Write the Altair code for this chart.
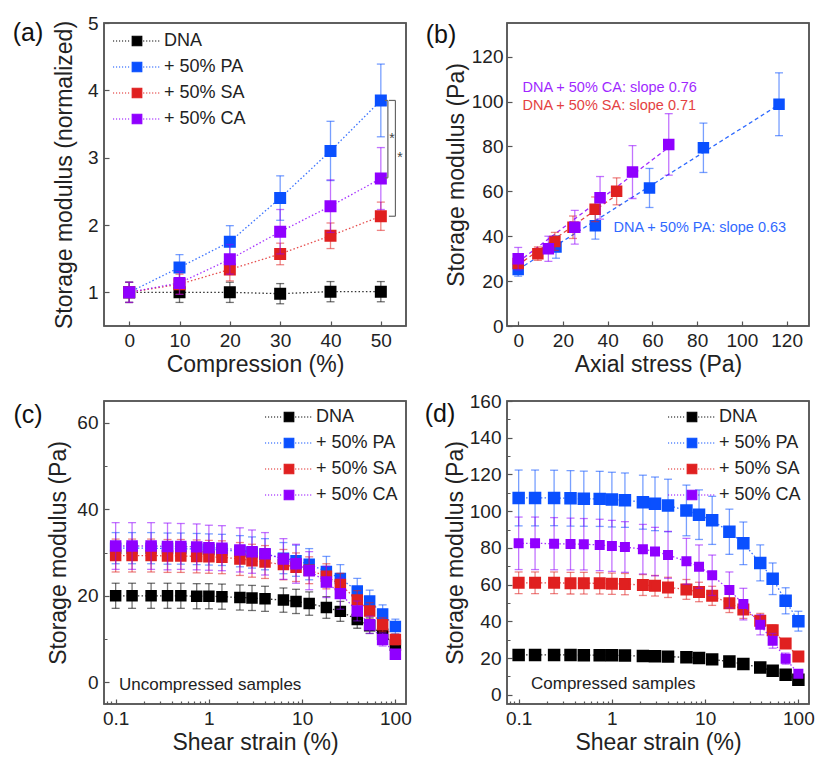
import altair as alt
import pandas as pd

FONT = "Liberation Sans"
SERIES = ["DNA", "+ 50% PA", "+ 50% SA", "+ 50% CA"]
COLORS = ["#000000", "#0a50ff", "#e02020", "#9000ff"]
W, H = 302, 303

# ---------------- (a) ----------------
compression = [0, 10, 20, 30, 40, 50]
a_dna = [1.00, 1.00, 1.00, 0.98, 1.01, 1.01]
a_dna_err = [0.15, 0.15, 0.15, 0.15, 0.15, 0.15]
a_pa = [1.00, 1.37, 1.75, 2.40, 3.10, 3.85]
a_pa_err = [0.15, 0.19, 0.24, 0.33, 0.44, 0.54]
a_sa = [1.00, 1.12, 1.34, 1.57, 1.84, 2.13]
a_sa_err = [0.15, 0.15, 0.17, 0.16, 0.19, 0.21]
a_ca = [1.00, 1.14, 1.49, 1.90, 2.28, 2.69]
a_ca_err = [0.15, 0.17, 0.22, 0.33, 0.39, 0.46]

br_x = [50.8, 51.4, 50.8, 51.6, 52.9, 51.6]
br_x2 = [51.4, 51.4, 51.4, 52.9, 52.9, 52.9]
br_y = [3.85, 3.85, 2.70, 3.85, 3.85, 2.13]
br_y2 = [3.85, 2.70, 2.70, 3.85, 2.13, 2.13]
star_x = [52.2, 53.8]
star_y = [3.27, 3.00]

# ---------------- (b) ----------------
b_pa_x = [0, 16.9, 34.5, 58.7, 82.8, 116.6]
b_pa = [25.2, 35.2, 44.7, 61.5, 79.4, 98.8]
b_pa_err = [3.0, 5.0, 6.0, 8.7, 11.0, 14.0]
b_sa_x = [0, 8.8, 16.4, 24.5, 34.4, 44.0]
b_sa = [27.8, 32.2, 37.7, 44.0, 52.0, 60.0]
b_sa_err = [2.0, 3.0, 4.0, 5.0, 5.5, 6.0]
b_ca_x = [0, 13.5, 25.3, 36.6, 51.1, 67.3]
b_ca = [30.0, 34.4, 44.0, 57.1, 68.6, 80.9]
b_ca_err = [5.0, 5.6, 7.5, 9.5, 11.8, 13.7]
fit_series = ["+ 50% PA", "+ 50% PA", "+ 50% SA", "+ 50% SA", "+ 50% CA", "+ 50% CA"]
fit_x = [0, 117, 0, 44, 0, 67]
fit_y = [25.2, 98.9, 27.2, 58.4, 28.5, 79.4]
ann_series = ["+ 50% CA", "+ 50% SA", "+ 50% PA"]
ann_text = ["DNA + 50% CA: slope 0.76", "DNA + 50% SA: slope 0.71", "DNA + 50% PA: slope 0.63"]
ann_x = [1.9, 1.9, 42.6]
ann_y = [106.0, 98.2, 43.8]

# ---------------- (c) / (d) ----------------
strain = [0.1, 0.15, 0.24, 0.36, 0.5, 0.74, 1.0, 1.38, 2.15, 2.9, 4.0, 6.3, 8.6, 11.9, 18.2, 25.7, 39, 53, 73, 100]

c_dna = [20.0, 20.0, 20.0, 20.0, 20.0, 19.9, 19.9, 19.8, 19.6, 19.5, 19.3, 19.0, 18.7, 18.2, 17.3, 16.4, 14.5, 13.1, 11.1, 8.6]
c_dna_err = [2.9, 2.9, 2.9, 2.9, 2.9, 2.9, 2.9, 2.9, 2.9, 2.9, 2.9, 2.8, 2.8, 2.7, 2.5, 2.3, 2.0, 1.8, 1.6, 1.5]
c_pa = [31.0, 31.0, 31.0, 30.9, 30.9, 30.8, 30.7, 30.6, 30.3, 30.0, 29.6, 28.7, 28.1, 27.3, 25.6, 24.0, 21.1, 18.8, 15.8, 12.9]
c_pa_err = [3.6, 3.6, 3.6, 3.6, 3.6, 3.6, 3.6, 3.6, 3.6, 3.6, 3.6, 3.6, 3.6, 3.6, 3.5, 3.2, 2.9, 2.5, 2.1, 1.7]
c_sa = [29.3, 29.3, 29.3, 29.2, 29.2, 29.1, 29.0, 28.9, 28.5, 28.1, 27.8, 27.2, 26.6, 25.9, 24.5, 22.6, 19.0, 16.5, 13.3, 9.9]
c_sa_err = [3.8, 3.8, 3.8, 3.8, 3.8, 3.8, 3.8, 3.8, 3.8, 3.8, 3.8, 3.5, 3.3, 3.1, 2.9, 2.6, 2.2, 1.9, 1.6, 1.2]
c_ca = [31.5, 31.5, 31.5, 31.4, 31.4, 31.3, 31.1, 31.0, 30.6, 30.2, 29.7, 28.5, 27.4, 25.8, 23.2, 20.5, 16.5, 13.3, 9.9, 6.5]
c_ca_err = [5.4, 5.4, 5.4, 5.4, 5.3, 5.3, 5.2, 5.2, 5.1, 5.0, 4.9, 4.7, 4.5, 4.4, 3.6, 3.6, 2.3, 2.0, 1.5, 1.0]

d_dna = [21.7, 21.7, 21.7, 21.7, 21.6, 21.6, 21.5, 21.4, 21.1, 21.0, 20.8, 20.4, 20.0, 19.3, 18.1, 16.8, 14.9, 13.1, 10.9, 8.2]
d_dna_err = [2.2, 2.2, 2.2, 2.2, 2.2, 2.2, 2.2, 2.2, 2.2, 2.2, 2.2, 2.2, 2.0, 2.0, 1.8, 1.7, 1.5, 1.3, 1.2, 1.0]
d_pa = [107.2, 107.2, 107.2, 107.0, 106.8, 106.7, 106.3, 106.0, 104.9, 104.0, 103.1, 100.4, 98.1, 95.0, 88.8, 82.5, 71.8, 63.2, 51.2, 40.1]
d_pa_err = [15.2, 15.2, 15.1, 15.1, 15.0, 15.0, 14.9, 14.8, 14.7, 14.6, 14.3, 13.8, 13.5, 13.1, 12.3, 11.6, 9.8, 8.6, 7.1, 5.4]
d_sa = [61.0, 61.0, 61.0, 60.8, 60.8, 60.7, 60.5, 60.3, 59.8, 59.4, 58.5, 57.4, 56.0, 53.9, 49.8, 46.4, 40.4, 35.1, 27.9, 20.8]
d_sa_err = [5.9, 5.9, 5.9, 5.9, 5.9, 5.8, 5.8, 5.8, 5.7, 5.6, 5.5, 5.4, 5.3, 5.2, 5.0, 4.8, 4.0, 3.0, 2.0, 1.5]
d_ca = [82.5, 82.5, 82.3, 82.1, 82.0, 81.6, 81.1, 80.5, 79.3, 78.0, 76.2, 72.7, 69.8, 65.1, 57.1, 49.4, 38.1, 29.4, 19.7, 11.5]
d_ca_err = [14.3, 14.3, 14.2, 14.1, 14.0, 14.0, 13.9, 13.8, 13.5, 13.2, 12.8, 12.5, 11.8, 11.0, 9.8, 8.6, 5.5, 4.0, 3.0, 2.0]

log_ticks = [0.08, 0.09, 0.1, 0.2, 0.3, 0.4, 0.5, 0.6, 0.7, 0.8, 0.9, 1, 2, 3, 4, 5, 6, 7, 8, 9,
             10, 20, 30, 40, 50, 60, 70, 80, 90, 100]

# axis ranges of the four panels
dom_a = ([-5, 55], [0.5, 5])
dom_b = ([-5, 130], [0, 135])
dom_c = ([0.075, 130], [-5, 65])
dom_d = ([0.075, 130], [-5, 160])


def long_df(names, xs_list, ys_list, es_list):
    rows = []
    for s, xs, ys, es in zip(names, xs_list, ys_list, es_list):
        for x, y, e in zip(xs, ys, es):
            rows.append({"series": s, "x": x, "y": y, "lo": y - e, "hi": y + e})
    return pd.DataFrame(rows)


df_a = long_df(SERIES, [compression] * 4, [a_dna, a_pa, a_sa, a_ca], [a_dna_err, a_pa_err, a_sa_err, a_ca_err])
df_b = long_df(SERIES[1:], [b_pa_x, b_sa_x, b_ca_x], [b_pa, b_sa, b_ca], [b_pa_err, b_sa_err, b_ca_err])
df_c = long_df(SERIES, [strain] * 4, [c_dna, c_pa, c_sa, c_ca], [c_dna_err, c_pa_err, c_sa_err, c_ca_err])
df_d = long_df(SERIES, [strain] * 4, [d_dna, d_pa, d_sa, d_ca], [d_dna_err, d_pa_err, d_sa_err, d_ca_err])
df_fit = pd.DataFrame({"series": fit_series, "x": fit_x, "y": fit_y})
df_ann = pd.DataFrame({"series": ann_series, "text": ann_text, "x": ann_x, "y": ann_y})
df_br = pd.DataFrame({"x": br_x, "x2": br_x2, "y": br_y, "y2": br_y2})
df_star = pd.DataFrame({"x": star_x, "y": star_y, "t": ["*", "*"]})

cscale = alt.Scale(domain=SERIES, range=COLORS)
COLOR_OF = dict(zip(SERIES, COLORS))


def dots(a, b):
    out = []
    t = a
    while t < b - 0.1:
        out.append(f"M{t:.3f},0h0.13")
        t += 0.333
    return "".join(out)


# legend symbol: dotted line with square (symbolSize 324 -> 9 px per unit)
SYM = dots(-2.67, -0.62) + dots(0.68, 2.67) + "M-0.53,-0.53h1.06v1.06h-1.06z"


def make_legend(lx, ly):
    return alt.Legend(title=None, orient="none", legendX=lx, legendY=ly, symbolType=SYM,
                      symbolSize=324, symbolStrokeWidth=1.2, rowPadding=7,
                      labelOffset=17, labelFontSize=18, labelFont=FONT, labelColor="#222")


LOGMINOR = "abs(log(datum.value)/LN10 - round(log(datum.value)/LN10)) > 0.01"
LINMINOR = "datum.value % 20 != 0"


def axis(title, values, minor=None, label_pad=5, title_pad=3, fmt=None):
    kw = dict(title=title, values=values, offset=-5, domain=False, grid=False, tickSize=5,
              tickColor="#555", tickWidth=1.2, labelFontSize=19, titleFontSize=23,
              labelPadding=label_pad, titlePadding=title_pad, labelColor="#222",
              titleColor="#222", labelFont=FONT, titleFont=FONT, titleFontWeight="normal",
              labelFlush=False, labelOverlap=False)
    if fmt:
        kw["format"] = fmt
    if minor:
        kw["tickDash"] = {"condition": {"test": minor, "value": [0, 2, 3, 20]}, "value": [20, 0]}
        kw["labelExpr"] = f"({minor}) ? '' : datum.label"
    return alt.Axis(**kw)


def frame(dom, xs, ys, xa, ya):
    fdf = pd.DataFrame({"x": [dom[0][0]], "x2": [dom[0][1]], "y": [dom[1][0]], "y2": [dom[1][1]]})
    return alt.Chart(fdf).mark_rect(filled=False, stroke="#555", strokeWidth=1.5, fillOpacity=0).encode(
        x=alt.X("x:Q", scale=xs, axis=xa), x2="x2:Q", y=alt.Y("y:Q", scale=ys, axis=ya), y2="y2:Q")


def panel(df, dom, xs, ys, xa, ya, legend, sizes, connect, label, lxy, pre=(), post=()):
    X = alt.X("x:Q", scale=xs, axis=xa)
    layers = list(pre)
    for s in SERIES:
        d = df[df.series == s]
        if d.empty:
            continue
        c = COLOR_OF[s]
        if connect:
            layers.append(alt.Chart(d).mark_line(color=c, strokeDash=[1.5, 2.2], strokeWidth=1.3, opacity=0.8)
                          .encode(x=X, y=alt.Y("y:Q", scale=ys, axis=ya)))
        layers.append(alt.Chart(d).mark_rule(color=c, strokeWidth=1.3, opacity=0.55)
                      .encode(x=X, y=alt.Y("lo:Q", scale=ys, axis=ya), y2="hi:Q"))
        layers.append(alt.Chart(d).transform_fold(["lo", "hi"], as_=["k", "v"])
                      .mark_tick(color=c, orient="horizontal", size=8, thickness=1.3, opacity=0.55)
                      .encode(x=X, y=alt.Y("v:Q", scale=ys, axis=ya)))
        layers.append(alt.Chart(d).mark_square(size=sizes[s], opacity=1)
                      .encode(x=X, y=alt.Y("y:Q", scale=ys, axis=ya),
                              fill=alt.Fill("series:N", scale=cscale, legend=legend),
                              stroke=alt.Stroke("series:N", scale=cscale, legend=legend)))
    layers += list(post)
    layers.append(frame(dom, xs, ys, xa, ya))
    layers.append(alt.Chart(pd.DataFrame({"t": [label]})).mark_text(
        fontSize=25, font=FONT, color="#111", align="center", baseline="middle")
        .encode(text="t:N", x=alt.value(lxy[0]), y=alt.value(lxy[1])))
    return alt.layer(*layers).properties(width=W, height=H)


# ---- panel a
xs_a = alt.Scale(domain=dom_a[0], nice=False, zero=False)
ys_a = alt.Scale(domain=dom_a[1], nice=False, zero=False)
xa_a = axis("Compression (%)", [0, 10, 20, 30, 40, 50], label_pad=5, title_pad=3)
ya_a = axis("Storage modulus (normalized)", [1, 2, 3, 4, 5], label_pad=6, title_pad=11)
brackets = alt.Chart(df_br).mark_rule(color="#666", strokeWidth=1.2).encode(
    x=alt.X("x:Q", scale=xs_a, axis=xa_a), x2="x2:Q", y=alt.Y("y:Q", scale=ys_a, axis=ya_a), y2="y2:Q")
stars = alt.Chart(df_star).mark_text(fontSize=14, font=FONT, color="#444").encode(
    x=alt.X("x:Q", scale=xs_a, axis=xa_a), y=alt.Y("y:Q", scale=ys_a, axis=ya_a), text="t:N")
A = panel(df_a, dom_a, xs_a, ys_a, xa_a, ya_a, make_legend(23, 8), {s: 100 for s in SERIES}, True,
          "(a)", (-76, 10), post=(brackets, stars))

# ---- panel b
xs_b = alt.Scale(domain=dom_b[0], nice=False, zero=False)
ys_b = alt.Scale(domain=dom_b[1], nice=False, zero=False)
xa_b = axis("Axial stress (Pa)", [0, 20, 40, 60, 80, 100, 120], label_pad=5, title_pad=3)
ya_b = axis("Storage modulus (Pa)", [0, 20, 40, 60, 80, 100, 120], label_pad=4, title_pad=3)
colb = alt.Color("series:N", scale=cscale, legend=None)
fits = alt.Chart(df_fit).mark_line(strokeDash=[4, 3], strokeWidth=1.3, opacity=0.85).encode(
    x=alt.X("x:Q", scale=xs_b, axis=xa_b), y=alt.Y("y:Q", scale=ys_b, axis=ya_b),
    color=colb, detail="series:N")
anns = alt.Chart(df_ann).mark_text(align="left", baseline="middle", fontSize=14.5, font=FONT,
                                   opacity=0.85).encode(
    x=alt.X("x:Q", scale=xs_b, axis=xa_b), y=alt.Y("y:Q", scale=ys_b, axis=ya_b),
    text="text:N", color=colb)
B = panel(df_b, dom_b, xs_b, ys_b, xa_b, ya_b, None, {s: 90 for s in SERIES}, False,
          "(b)", (-66, 12), pre=(fits,), post=(anns,))

# ---- panel c
xs_log = alt.Scale(type="log", domain=dom_c[0], nice=False)
ys_c = alt.Scale(domain=dom_c[1], nice=False, zero=False)
xa_c = axis("Shear strain (%)", log_ticks, minor=LOGMINOR, label_pad=5, title_pad=3, fmt="~r")
ya_c = axis("Storage modulus (Pa)", [0, 10, 20, 30, 40, 50, 60], minor=LINMINOR, label_pad=6, title_pad=6)
txt_c = alt.Chart(pd.DataFrame({"t": ["Uncompressed samples"]})).mark_text(
    align="left", baseline="middle", fontSize=17, font=FONT, color="#222").encode(
    text="t:N", x=alt.value(15), y=alt.value(H - 19))
C = panel(df_c, dom_c, xs_log, ys_c, xa_c, ya_c, make_legend(W - 127, 6), {s: 90 for s in SERIES}, True,
          "(c)", (-76, 14), post=(txt_c,))

# ---- panel d
ys_d = alt.Scale(domain=dom_d[1], nice=False, zero=False)
xa_d = axis("Shear strain (%)", log_ticks, minor=LOGMINOR, label_pad=5, title_pad=3, fmt="~r")
ya_d = axis("Storage modulus (Pa)", list(range(0, 161, 10)), minor=LINMINOR, label_pad=6, title_pad=2)
txt_d = alt.Chart(pd.DataFrame({"t": ["Compressed samples"]})).mark_text(
    align="left", baseline="middle", fontSize=17, font=FONT, color="#222").encode(
    text="t:N", x=alt.value(24), y=alt.value(H - 20))
D = panel(df_d, dom_d, xs_log, ys_d, xa_d, ya_d, make_legend(W - 127, 6),
          {"DNA": 110, "+ 50% PA": 110, "+ 50% SA": 100, "+ 50% CA": 64}, True,
          "(d)", (-67, 13), post=(txt_d,))

chart = alt.concat(A, B, C, D, columns=2, spacing={"row": 75, "column": 101}, bounds="flush").resolve_scale(
    color="independent", fill="independent", stroke="independent"
).resolve_legend(fill="independent", stroke="independent", color="independent").properties(
    padding={"left": 3, "top": 5, "right": 0, "bottom": 0}
).configure(font=FONT).configure_view(stroke="#555", strokeWidth=1.5)

chart.save("out.html", embed_options={"renderer": "svg", "actions": False})
